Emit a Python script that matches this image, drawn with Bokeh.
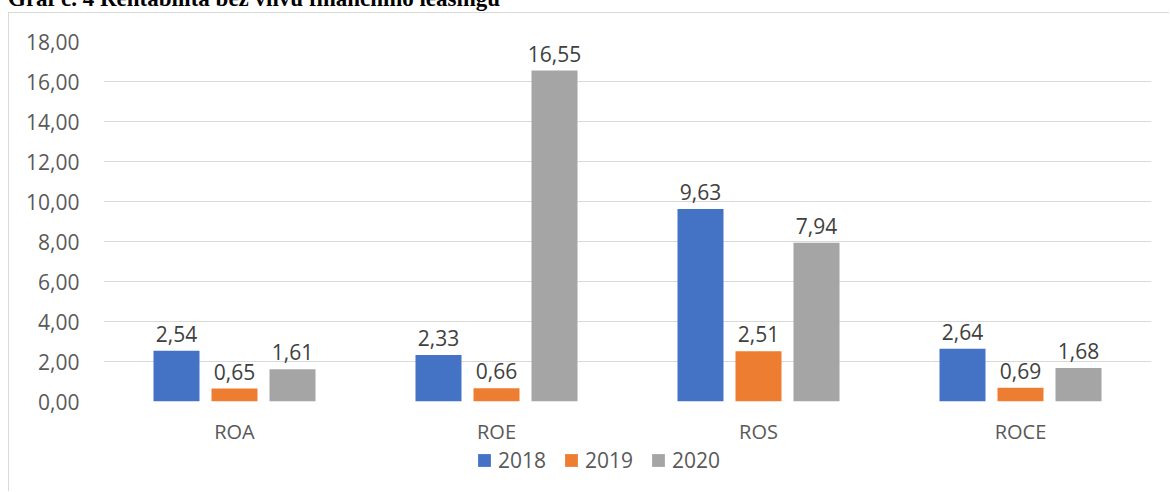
from bokeh.plotting import figure
from bokeh.models import (FactorRange, Range1d, FixedTicker, Legend, LegendItem,
                          ColumnDataSource, Div)
from bokeh.transform import dodge
from bokeh.layouts import column
from bokeh.core.properties import value
from bokeh.embed import file_html
from bokeh.resources import INLINE

title_text = "Graf č. 4 Rentabilita bez vlivu finančního leasingu"
categories = ["ROA", "ROE", "ROS", "ROCE"]
years = ["2018", "2019", "2020"]
v2018 = [2.54, 2.33, 9.63, 2.64]
v2019 = [0.65, 0.66, 2.51, 0.69]
v2020 = [1.61, 16.55, 7.94, 1.68]
y_ticks = [0, 2, 4, 6, 8, 10, 12, 14, 16, 18]
y_tick_labels = ["0,00", "2,00", "4,00", "6,00", "8,00", "10,00", "12,00",
                 "14,00", "16,00", "18,00"]
colors = ["#4472C4", "#ED7D31", "#A5A5A5"]


def fmt(v):
    return f"{v:.2f}".replace(".", ",")


src = ColumnDataSource(dict(
    cat=categories,
    y2018=v2018, y2019=v2019, y2020=v2020,
    l2018=[fmt(v) for v in v2018],
    l2019=[fmt(v) for v in v2019],
    l2020=[fmt(v) for v in v2020],
))

FONT = "Open Sans"
TXT = "#595959"
BORDER = "1px solid #d9d9d9"

# ---- main chart ----
p = figure(x_range=FactorRange(factors=categories), y_range=Range1d(0, 18),
           width=1161, height=435, output_backend="svg", toolbar_location=None,
           min_border_left=94, min_border_right=19, min_border_top=28,
           min_border_bottom=47, margin=(0, 0, 0, 8))
p.styles = {"border-left": BORDER, "border-top": BORDER}
p.outline_line_color = None
p.background_fill_color = "white"
p.border_fill_color = "white"

offsets = [-0.2214, 0.0, 0.2214]
for yr, off, col in zip(years, offsets, colors):
    p.vbar(x=dodge("cat", off, range=p.x_range), top="y" + yr, width=0.1756,
           source=src, fill_color=col, line_color=None)
    p.text(x=dodge("cat", off, range=p.x_range), y="y" + yr, text="l" + yr,
           source=src, text_font=value(FONT), text_font_size="21px",
           text_color="#404040", text_align="center", text_baseline="alphabetic",
           y_offset=-17)

p.ygrid.grid_line_color = "#d9d9d9"
p.ygrid.grid_line_width = 1.2
p.xgrid.grid_line_color = None

p.yaxis.ticker = FixedTicker(ticks=y_ticks)
p.yaxis.major_label_overrides = {t: l for t, l in zip(y_ticks, y_tick_labels)}
p.yaxis.axis_line_color = None
p.yaxis.major_tick_line_color = None
p.yaxis.minor_tick_line_color = None
p.yaxis.major_label_standoff = 18
p.yaxis.major_label_text_font = FONT
p.yaxis.major_label_text_font_size = "21px"
p.yaxis.major_label_text_color = TXT

p.xaxis.axis_line_color = None
p.xaxis.major_tick_line_color = None
p.xaxis.minor_tick_line_color = None
p.xaxis.major_label_standoff = 10
p.xaxis.major_label_text_font = FONT
p.xaxis.major_label_text_font_size = "20px"
p.xaxis.major_label_text_color = TXT

# ---- legend strip ----
p2 = figure(width=1161, height=44, output_backend="svg", toolbar_location=None,
            x_range=Range1d(0, 1), y_range=Range1d(0, 1),
            x_axis_location=None, y_axis_location=None,
            min_border=0, margin=(0, 0, 0, 8))
p2.styles = {"border-left": BORDER}
p2.outline_line_color = None
p2.grid.visible = False
p2.background_fill_color = "white"
p2.border_fill_color = "white"

# zero-size proxy bars, only used to draw the legend swatches
legend_renderers = [p2.vbar(x=[0], top=[0], width=0, fill_color=col, line_color=None)
                    for col in colors]
legend = Legend(items=[LegendItem(label=yr, renderers=[r])
                       for yr, r in zip(years, legend_renderers)],
                orientation="horizontal", location=(373, 17),
                padding=0, margin=0, spacing=17,
                glyph_width=16, glyph_height=16, label_standoff=6, label_height=20,
                label_text_font=FONT, label_text_font_size="21px",
                label_text_color=TXT, border_line_color=None,
                background_fill_alpha=0)
p2.add_layout(legend)

title = Div(text=title_text, width=1160, height=25, margin=(-13, 0, 0, 8),
            styles={"font-family": "Liberation Serif", "font-weight": "bold",
                    "font-size": "23px", "line-height": "23px",
                    "white-space": "nowrap", "color": "#000000"})

layout = column(title, p, p2, spacing=0)
open("out.html", "w").write(file_html(layout, INLINE))
